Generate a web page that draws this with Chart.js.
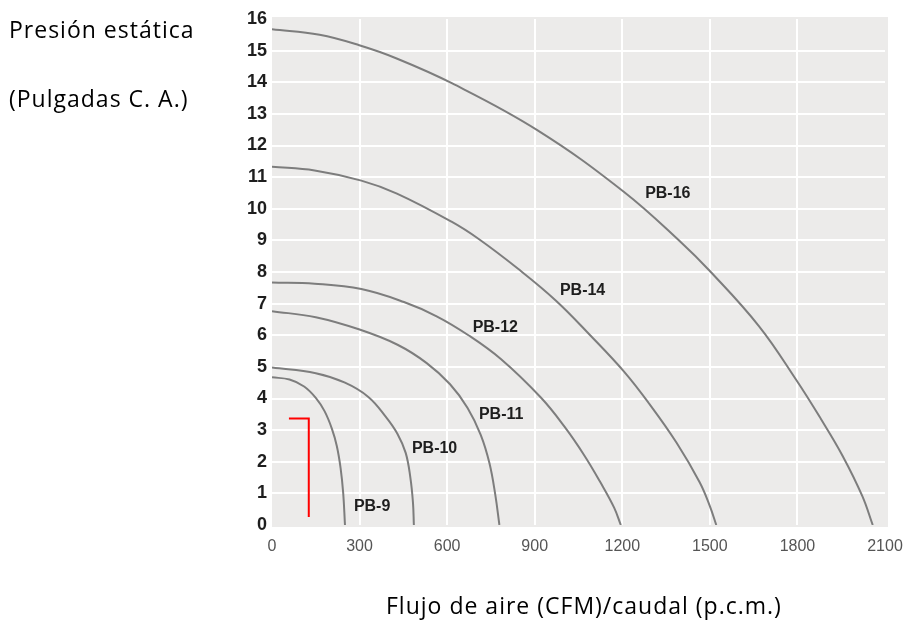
<!DOCTYPE html>
<html>
<head>
<meta charset="utf-8">
<script src="https://cdn.jsdelivr.net/npm/chart.js@4.4.1/dist/chart.umd.min.js"></script>
<style>
  html, body { margin: 0; padding: 0; background: #fff; }
  #wrap { position: relative; width: 903px; height: 620px; }
  canvas { position: absolute; left: 0; top: 0; }
  .t { position: absolute; font-family: "Open Sans", sans-serif; font-size: 23px; color: #000; white-space: nowrap; letter-spacing: 1px; line-height: 1; }
</style>
</head>
<body>
<div id="wrap">
  <canvas id="c" width="903" height="620"></canvas>
  <div class="t" style="left:9px; top:18px;">Presión estática</div>
  <div class="t" style="left:9px; top:87px;">(Pulgadas C. A.)</div>
  <div class="t" style="left:386px; top:594px;">Flujo de aire (CFM)/caudal (p.c.m.)</div>
</div>
<script>
// caudal (CFM) y presión estática (pulgadas C.A.)
const pb16Q = [0, 163, 299, 425, 616, 910, 1205, 1400, 1500, 1668, 1795, 1880, 1954, 2022, 2058];
const pb16P = [15.68, 15.5, 15.17, 14.76, 13.97, 12.48, 10.54, 8.95, 8.03, 6.29, 4.6, 3.36, 2.2, 0.92, 0];
const pb14Q = [0, 146, 306, 428, 615, 707, 843, 972, 1090, 1206, 1291, 1386, 1465, 1499, 1522];
const pb14P = [11.33, 11.21, 10.89, 10.48, 9.59, 9.05, 8.1, 7.1, 6.0, 4.85, 3.85, 2.6, 1.35, 0.62, 0];
const pb12Q = [0, 146, 306, 452, 564, 673, 785, 921, 1002, 1070, 1125, 1172, 1195];
const pb12P = [7.67, 7.63, 7.46, 7.05, 6.6, 6.0, 5.24, 4.03, 3.11, 2.2, 1.35, 0.55, 0];
const pb11Q = [0, 150, 300, 430, 530, 610, 670, 715, 745, 765, 779];
const pb11P = [6.76, 6.57, 6.18, 5.7, 5.12, 4.45, 3.7, 2.85, 1.95, 0.95, 0];
const pb10Q = [0, 150, 250, 330, 390, 430, 458, 474, 483, 486];
const pb10P = [4.98, 4.8, 4.5, 4.05, 3.42, 2.88, 2.28, 1.5, 0.7, 0];
const pb9Q = [0, 60, 110, 150, 180, 205, 222, 235, 244, 250];
const pb9P = [4.67, 4.6, 4.38, 4.02, 3.6, 3.05, 2.5, 1.8, 1.0, 0];
const markQ = [58, 126, 126];
const markP = [3.37, 3.37, 0.25];

const xTicks = [0, 300, 600, 900, 1200, 1500, 1800, 2100];
const yTicks = [0, 1, 2, 3, 4, 5, 6, 7, 8, 9, 10, 11, 12, 13, 14, 15, 16];

// curve labels: text, flow, pressure
const curveNames = ['PB-16', 'PB-14', 'PB-12', 'PB-11', 'PB-10', 'PB-9'];
const nameQ = [1356, 1064, 765, 785, 557, 343];
const nameP = [10.48, 7.4, 6.25, 3.49, 2.41, 0.57];

const pts = (q, p) => q.map((v, i) => ({ x: v, y: p[i] }));

const curve = (label, q, p) => ({
  label,
  data: pts(q, p),
  showLine: true,
  borderColor: '#7d7d7d',
  borderWidth: 2,
  pointRadius: 0,
  tension: 0.4,
  fill: false
});

const plotBg = {
  id: 'plotBg',
  beforeDraw(chart) {
    const { ctx, chartArea: a } = chart;
    ctx.save();
    ctx.fillStyle = '#ecebea';
    ctx.fillRect(a.left, a.top - 2, a.right - a.left + 3, a.bottom - a.top + 4);
    ctx.restore();
  }
};

const curveLabels = {
  id: 'curveLabels',
  afterDatasetsDraw(chart) {
    const { ctx, scales: { x, y } } = chart;
    ctx.save();
    ctx.font = 'bold 16px "Liberation Sans", Arial, sans-serif';
    ctx.fillStyle = '#1e1e1e';
    ctx.textAlign = 'center';
    ctx.textBaseline = 'middle';
    curveNames.forEach((n, i) => ctx.fillText(n, x.getPixelForValue(nameQ[i]), y.getPixelForValue(nameP[i])));
    ctx.restore();
  }
};

const gridCol = (c) => (c.index === 0 || c.index === c.scale.ticks.length - 1) ? 'rgba(0,0,0,0)' : '#ffffff';

new Chart(document.getElementById('c'), {
  type: 'scatter',
  data: {
    datasets: [
      curve('PB-16', pb16Q, pb16P),
      curve('PB-14', pb14Q, pb14P),
      curve('PB-12', pb12Q, pb12P),
      curve('PB-11', pb11Q, pb11P),
      curve('PB-10', pb10Q, pb10P),
      curve('PB-9', pb9Q, pb9P),
      {
        label: 'marca',
        data: pts(markQ, markP),
        showLine: true,
        borderColor: '#ff0000',
        borderWidth: 2,
        pointRadius: 0,
        tension: 0
      }
    ]
  },
  options: {
    responsive: false,
    animation: false,
    layout: { padding: { left: 228, right: 18, top: 19, bottom: 65 } },
    plugins: { legend: { display: false }, tooltip: { enabled: false } },
    scales: {
      x: {
        type: 'linear',
        min: 0,
        max: 2100,
        afterFit: s => { s.height = 30; s.paddingLeft = 0; s.paddingRight = 0; },
        afterBuildTicks: s => { s.ticks = xTicks.map(v => ({ value: v })); },
        grid: { color: gridCol, lineWidth: 2, drawTicks: false },
        border: { display: false },
        ticks: {
          padding: 12,
          maxRotation: 0,
          color: '#555',
          callback: v => String(v),
          font: { family: '"Liberation Sans", Arial, sans-serif', size: 16 }
        }
      },
      y: {
        min: 0,
        max: 16,
        afterFit: s => { s.width = 44; s.paddingTop = 0; s.paddingBottom = 0; },
        afterBuildTicks: s => { s.ticks = yTicks.map(v => ({ value: v })); },
        grid: { color: gridCol, lineWidth: 2, drawTicks: false },
        border: { display: false },
        ticks: {
          padding: 5,
          color: '#1e1e1e',
          font: { family: '"Liberation Sans", Arial, sans-serif', size: 18, weight: 'bold' }
        }
      }
    }
  },
  plugins: [plotBg, curveLabels]
});
</script>
</body>
</html>
